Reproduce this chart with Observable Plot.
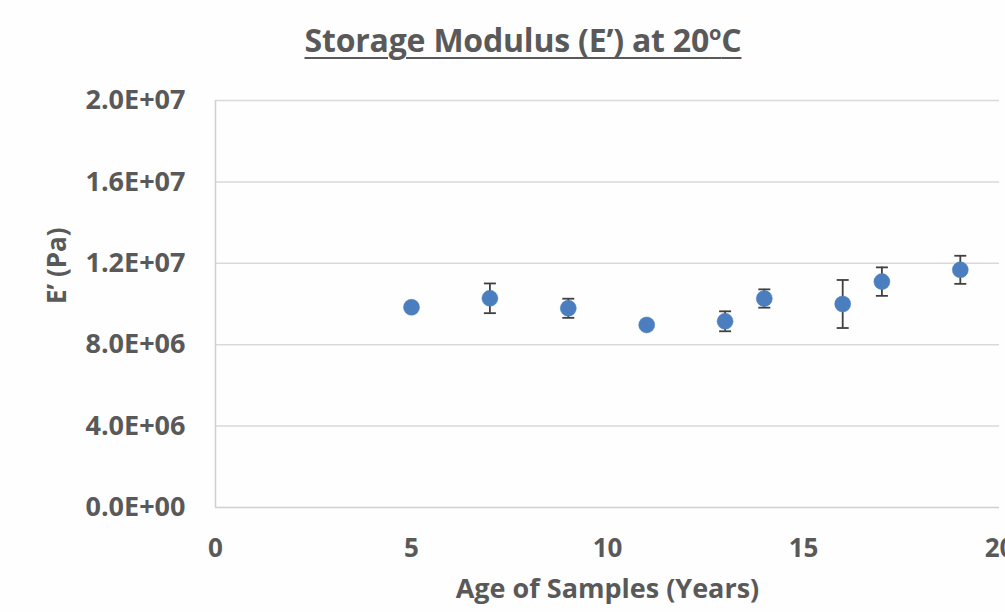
<!DOCTYPE html>
<html>
<head>
<meta charset="utf-8">
<script src="https://cdn.jsdelivr.net/npm/d3@7"></script>
<script src="https://cdn.jsdelivr.net/npm/@observablehq/plot@0.6"></script>
<style>
  html, body { margin: 0; padding: 0; background: #fefefe; overflow: hidden; }
  #wrap { width: 1005px; height: 612px; position: relative; font-family: "Open Sans", sans-serif; }
  #title { position: absolute; left: 0; top: 2px; height: 75px; width: 1046px; text-align: center;
           font-weight: bold; font-size: 32px; color: #595959; line-height: 75px; letter-spacing: -0.2px; }
  #title span { text-decoration: underline; text-decoration-thickness: 2px; text-underline-offset: 5px; }
  #title sup { font-size: 20px; vertical-align: 12px; line-height: 0; }
  #chart { position: absolute; left: 0; top: 75px; }
</style>
</head>
<body>
<div id="wrap">
  <div id="title"><span>Storage Modulus (E’) at 20<sup>o</sup>C</span></div>
  <div id="chart"></div>
</div>
<script>
// Data
const ages = [5, 7, 9, 11, 13, 14, 16, 17, 19];
const modulus = [9.84e6, 10.28e6, 9.79e6, 8.97e6, 9.15e6, 10.27e6, 10.0e6, 11.1e6, 11.68e6];
const errors = [0.1e6, 0.73e6, 0.47e6, 0.12e6, 0.49e6, 0.45e6, 1.18e6, 0.7e6, 0.69e6];
const xTicks = [0, 5, 10, 15, 20];
const yTicks = [0, 4e6, 8e6, 1.2e7, 1.6e7, 2e7];
const yTickLabels = ["0.0E+00", "4.0E+06", "8.0E+06", "1.2E+07", "1.6E+07", "2.0E+07"];
const xLabel = "Age of Samples (Years)";
const yLabel = "E’ (Pa)";

const data = ages.map((a, i) => ({age: a, e: modulus[i], lo: modulus[i] - errors[i], hi: modulus[i] + errors[i]}));

const capSymbol = {
  draw(ctx, size) {
    const w = 6;
    ctx.moveTo(-w, 0);
    ctx.lineTo(w, 0);
  }
};

const textColor = "#595959";
const chart = Plot.plot({
  width: 1005,
  height: 537,
  marginTop: 25,
  marginLeft: 215,
  marginRight: 6,
  marginBottom: 105,
  style: {fontFamily: "Open Sans, sans-serif", background: "transparent", overflow: "visible"},
  x: {domain: [0, 20]},
  y: {domain: [0, 2e7]},
  marks: [
    Plot.gridY(yTicks.filter(d => d > 0), {stroke: "#d9d9d9", strokeOpacity: 1, strokeWidth: 1.5}),
    Plot.ruleY([0], {stroke: "#d0d0d0", strokeWidth: 1.5}),
    Plot.ruleX([0], {y1: 0, y2: 2e7, stroke: "#d0d0d0", strokeWidth: 1.5}),
    Plot.axisY({ticks: yTicks, tickSize: 0, tickPadding: 30, fontSize: 27, fontWeight: "bold", fill: textColor,
      tickFormat: d => yTickLabels[yTicks.indexOf(d)], label: null, letterSpacing: -0.5}),
    Plot.axisX({ticks: xTicks, tickSize: 0, tickPadding: 31, fontSize: 26, fontWeight: "bold", fill: textColor, label: null}),
    Plot.text([xLabel], {frameAnchor: "bottom", dy: 90, fontSize: 27, fontWeight: "bold", fill: textColor, text: d => d, letterSpacing: -0.3}),
    Plot.text([yLabel], {frameAnchor: "left", dx: -158, dy: 0, rotate: -90, fontSize: 26, fontWeight: "bold", fill: textColor, text: d => d}),
    Plot.ruleX(data, {x: "age", y1: "lo", y2: "hi", stroke: "#404040", strokeWidth: 1.8}),
    Plot.dot(data, {x: "age", y: "lo", symbol: capSymbol, r: 5, stroke: "#404040", strokeWidth: 1.8, fill: "none"}),
    Plot.dot(data, {x: "age", y: "hi", symbol: capSymbol, r: 5, stroke: "#404040", strokeWidth: 1.8, fill: "none"}),
    Plot.dot(data, {x: "age", y: "e", r: 8, fill: "#4a7ebf", stroke: "#4a7ebf", strokeWidth: 0.5})
  ]
});
document.getElementById("chart").appendChild(chart);
</script>
</body>
</html>
